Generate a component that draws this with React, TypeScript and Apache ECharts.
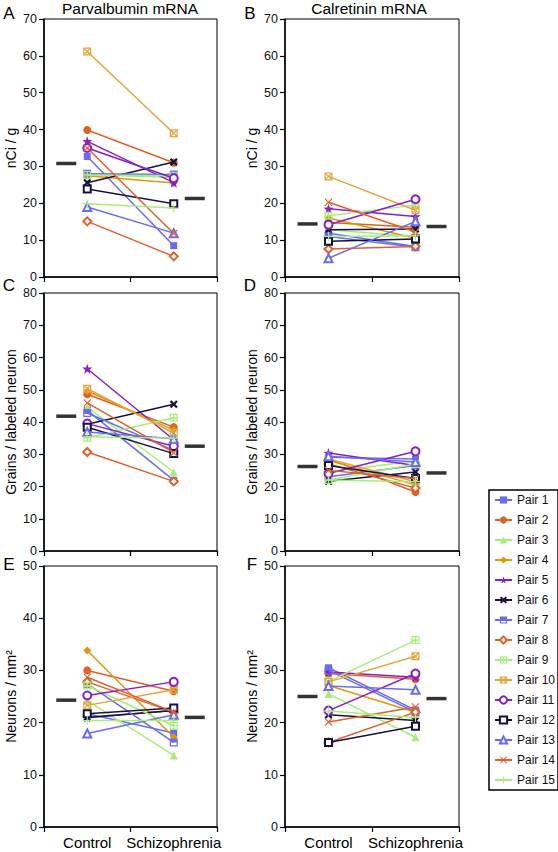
import React, { useEffect, useRef } from "react";
import * as echarts from "echarts";

const groups = ["Control", "Schizophrenia"];
const pairNames = [
  "Pair 1", "Pair 2", "Pair 3", "Pair 4", "Pair 5", "Pair 6", "Pair 7", "Pair 8",
  "Pair 9", "Pair 10", "Pair 11", "Pair 12", "Pair 13", "Pair 14", "Pair 15",
];
const pairColors = [
  "#6b6bef", "#e0602a", "#a6ee7a", "#e0960f", "#8a1fc4", "#14143c", "#6b6bef", "#e0602a",
  "#a6ee7a", "#e4a53a", "#8a1fc4", "#14143c", "#6b6bef", "#e0602a", "#a6ee7a",
];

// A: Parvalbumin mRNA, nCi / g
const parvNciControl = [32.7, 39.9, 27.8, 27.5, 36.8, 25.6, 28.0, 15.1, 27.7, 61.2, 35.0, 23.9, 19.0, 35.0, 19.9];
const parvNciSchizo = [8.5, 31.0, 27.0, 25.5, 25.6, 31.2, 27.8, 5.6, 27.5, 39.0, 26.8, 19.9, 11.9, 11.8, 18.7];
const parvNciMean = [30.8, 21.3];
// B: Calretinin mRNA, nCi / g
const calNciControl = [11.9, 14.8, 12.8, 16.0, 18.5, 12.8, 11.0, 7.6, 16.6, 27.3, 14.2, 9.7, 5.1, 20.3, 11.0];
const calNciSchizo = [8.3, 13.5, 11.0, 10.5, 16.4, 13.0, 8.1, 8.3, 19.5, 18.1, 21.1, 10.3, 15.1, 12.2, 11.2];
const calNciMean = [14.4, 13.7];
// C: Parvalbumin, grains / labeled neuron
const parvGrainControl = [43.6, 48.6, 44.6, 49.6, 56.5, 39.3, 42.8, 30.7, 35.1, 50.3, 39.5, 38.4, 36.9, 45.9, 35.4];
const parvGrainSchizo = [21.9, 38.4, 24.5, 37.5, 34.5, 45.5, 31.2, 21.6, 41.3, 36.6, 32.5, 30.2, 34.8, 30.5, 35.0];
const parvGrainMean = [41.8, 32.5];
// D: Calretinin, grains / labeled neuron
const calGrainControl = [29.1, 28.6, 24.5, 28.1, 30.4, 21.6, 23.0, 27.0, 22.0, 28.5, 24.0, 26.5, 29.4, 25.0, 22.0];
const calGrainSchizo = [28.5, 18.3, 28.0, 20.5, 26.5, 24.5, 26.5, 19.5, 27.0, 21.5, 30.9, 22.5, 27.6, 22.5, 21.5];
const calGrainMean = [26.2, 24.2];
// E: Parvalbumin, neurons / mm2
const parvNeuronControl = [21.7, 30.0, 24.2, 33.8, 21.0, 21.0, 27.4, 27.8, 27.1, 23.3, 25.2, 21.7, 17.9, 28.7, 20.4];
const parvNeuronSchizo = [18.0, 26.0, 13.7, 17.2, 22.3, 22.3, 16.2, 22.0, 19.4, 26.3, 27.8, 22.8, 21.5, 22.0, 20.4];
const parvNeuronMean = [24.3, 21.0];
// F: Calretinin, neurons / mm2
const calNeuronControl = [30.5, 29.4, 25.5, 27.1, 29.7, 21.5, 30.0, 16.2, 27.9, 27.8, 22.3, 16.2, 27.0, 20.1, 22.2];
const calNeuronSchizo = [22.4, 28.3, 17.2, 22.0, 28.7, 20.4, 22.0, 22.0, 35.8, 32.7, 29.4, 19.3, 26.3, 23.0, 21.0];
const calNeuronMean = [25.0, 24.6];

const STAR = "path://M5,0L6.18,3.38L9.76,3.45L6.9,5.62L7.94,9.05L5,7L2.06,9.05L3.1,5.62L0.24,3.45L3.82,3.38Z";
const BOLDX = "path://M0,2L2,0L5,3L8,0L10,2L7,5L10,8L8,10L5,7L2,10L0,8L3,5Z";
const THINX = "path://M0,1L1,0L5,4L9,0L10,1L6,5L10,9L9,10L5,6L1,10L0,9L4,5Z";
const PLUS = "path://M4.4,0L5.6,0L5.6,4.4L10,4.4L10,5.6L5.6,5.6L5.6,10L4.4,10L4.4,5.6L0,5.6L0,4.4L4.4,4.4Z";
const HALFSQ = "path://M0,0L10,0L10,10L0,10Z M1.5,5L1.5,8.5L8.5,8.5L8.5,5Z";
const HATCHSQ = "path://M0,0L10,0L10,10L0,10Z M1.5,1.5L1.5,8.5L8.5,8.5L8.5,1.5Z M4.25,1L5.75,1L5.75,9L4.25,9Z M1,4.25L9,4.25L9,5.75L1,5.75Z";
const BOXX = "path://M0,0L10,0L10,10L0,10Z M1.5,1.5L1.5,8.5L8.5,8.5L8.5,1.5Z M1,2L2,1L9,8L8,9Z M8,1L9,2L2,9L1,8Z";

const pairSymbols = [
  "rect", "circle", "triangle", "diamond", STAR, BOLDX, HALFSQ, "emptyDiamond",
  HATCHSQ, BOXX, "emptyCircle", "emptyRect", "emptyTriangle", THINX, PLUS,
];
const pairSymbolSizes = [7, 8, 8, 8, 10, 8, 8, 8, 8, 8, 8, 7, 8, 8, 9];

const FONT = "Liberation Sans, Arial, Helvetica, sans-serif";

const panels = [
  { control: parvNciControl, schizo: parvNciSchizo, mean: parvNciMean, max: 70, name: "nCi / g", grid: { left: 44, top: 19, width: 173, height: 258 }, showX: false },
  { control: calNciControl, schizo: calNciSchizo, mean: calNciMean, max: 70, name: "nCi / g", grid: { left: 285, top: 19, width: 174, height: 258 }, showX: false },
  { control: parvGrainControl, schizo: parvGrainSchizo, mean: parvGrainMean, max: 80, name: "Grains / labeled neuron", grid: { left: 44, top: 293, width: 173, height: 258 }, showX: false },
  { control: calGrainControl, schizo: calGrainSchizo, mean: calGrainMean, max: 80, name: "Grains / labeled neuron", grid: { left: 285, top: 293, width: 174, height: 258 }, showX: false },
  { control: parvNeuronControl, schizo: parvNeuronSchizo, mean: parvNeuronMean, max: 50, name: "Neurons / mm²", grid: { left: 44, top: 566, width: 173, height: 261 }, showX: true },
  { control: calNeuronControl, schizo: calNeuronSchizo, mean: calNeuronMean, max: 50, name: "Neurons / mm²", grid: { left: 285, top: 566, width: 174, height: 261 }, showX: true },
];

const textEl = (text: string, x: number, y: number, size: number) => ({
  type: "text",
  x,
  y,
  silent: true,
  style: {
    text,
    fill: "#000",
    font: `${size}px ${FONT}`,
    fontSize: size,
    fontFamily: FONT,
    textAlign: "center",
    textVerticalAlign: "middle",
    align: "center",
    verticalAlign: "middle",
  },
});

export default function App() {
  const ref = useRef<HTMLDivElement>(null);
  useEffect(() => {
    if (!ref.current) return;
    const chart = echarts.init(ref.current, null, { renderer: "svg" });
    const grids: any[] = [];
    const xAxes: any[] = [];
    const yAxes: any[] = [];
    const series: any[] = [];
    panels.forEach((p, i) => {
      grids.push({ ...p.grid, show: true, borderColor: "#000", borderWidth: 1, backgroundColor: "transparent" });
      xAxes.push({
        type: "category",
        gridIndex: i,
        data: groups,
        boundaryGap: true,
        axisLine: { show: true, lineStyle: { color: "#000", width: 1.5 } },
        axisTick: { show: true, inside: false, length: 5, alignWithLabel: false, interval: 0, lineStyle: { color: "#000", width: 1.2 } },
        axisLabel: { show: p.showX, color: "#000", fontSize: 15, fontFamily: FONT, margin: 8, interval: 0 },
        splitLine: { show: false },
      });
      yAxes.push({
        type: "value",
        gridIndex: i,
        min: 0,
        max: p.max,
        interval: 10,
        name: p.name,
        nameLocation: "middle",
        nameGap: 26,
        nameRotate: 90,
        nameTextStyle: { color: "#000", fontSize: 14, fontFamily: FONT },
        axisLine: { show: true, lineStyle: { color: "#000", width: 1.5 } },
        axisTick: { show: true, inside: false, length: 5, lineStyle: { color: "#000", width: 1.2 } },
        axisLabel: { color: "#111", fontSize: 12.5, fontFamily: FONT, margin: 7 },
        splitLine: { show: false },
      });
      pairNames.forEach((name, k) => {
        const sym = pairSymbols[k];
        const isEmpty = typeof sym === "string" && sym.startsWith("empty");
        series.push({
          type: "line",
          name,
          xAxisIndex: i,
          yAxisIndex: i,
          data: [p.control[k], p.schizo[k]],
          symbol: sym,
          symbolSize: pairSymbolSizes[k],
          showSymbol: true,
          clip: false,
          lineStyle: { color: pairColors[k], width: 1.5 },
          itemStyle: { color: pairColors[k], borderColor: pairColors[k], borderWidth: isEmpty ? 1.5 : 0 },
          emphasis: { disabled: true },
          z: 2 + k * 0.01,
        });
      });
      series.push({
        type: "scatter",
        name: "Mean",
        xAxisIndex: i,
        yAxisIndex: i,
        symbol: "rect",
        symbolSize: [20, 3.5],
        itemStyle: { color: "#000" },
        silent: true,
        z: 5,
        data: [
          { value: [0, p.mean[0]], symbolOffset: [-21, 0] },
          { value: [1, p.mean[1]], symbolOffset: [21, 0] },
        ],
      });
    });

    chart.setOption({
      animation: false,
      backgroundColor: "#fff",
      textStyle: { fontFamily: FONT },
      grid: grids,
      xAxis: xAxes,
      yAxis: yAxes,
      series,
      legend: {
        data: pairNames,
        orient: "vertical",
        left: 489,
        top: 490,
        padding: [4, 3, 4, 5],
        itemWidth: 17,
        itemHeight: 9,
        itemGap: 8,
        borderColor: "#000",
        borderWidth: 1.5,
        selectedMode: false,
        textStyle: { color: "#111", fontSize: 12, fontFamily: FONT },
      },
      graphic: [
        textEl("Parvalbumin mRNA", 130, 8, 15.5),
        textEl("Calretinin mRNA", 369, 8, 15.5),
        textEl("A", 9, 13, 17),
        textEl("B", 250, 13, 17),
        textEl("C", 9, 285, 17),
        textEl("D", 250, 285, 17),
        textEl("E", 9, 564, 17),
        textEl("F", 252, 564, 17),
      ],
    });
    return () => chart.dispose();
  }, []);
  return <div ref={ref} style={{ position: "absolute", left: 0, top: 0, width: 558, height: 852 }} />;
}
